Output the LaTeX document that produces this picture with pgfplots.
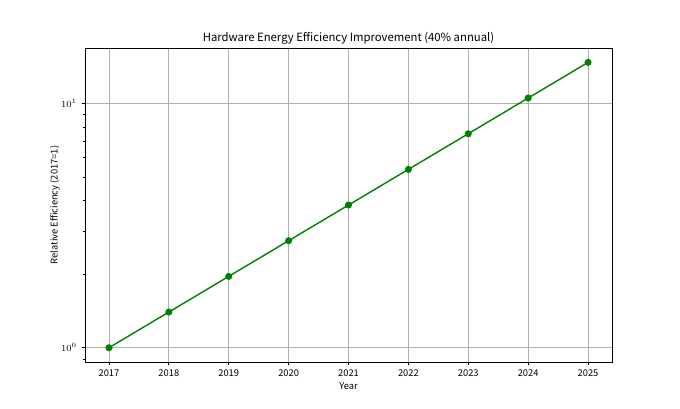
\documentclass[border=0pt]{standalone}
\usepackage{pgfplots}
\pgfplotsset{compat=1.18}
\usepackage{fontspec}
\setmainfont{Noto Sans CJK SC}
\definecolor{mplgreen}{HTML}{008000}
\definecolor{gridgray}{HTML}{B0B0B0}
\begin{document}
\begin{tikzpicture}
\path[use as bounding box] (0pt,0pt) rectangle (510pt,306pt);
\begin{axis}[
  at={(63.75pt,34.5pt)}, anchor=south west,
  scale only axis, width=395.25pt, height=235.5pt,
  ymode=log, log basis y=10,
  xmin=2016.6, xmax=2025.4,
  ymin=0.874, ymax=16.9,
  xtick={2017,2018,2019,2020,2021,2022,2023,2024,2025},
  xticklabels={2017,2018,2019,2020,2021,2022,2023,2024,2025},
  ytick={1,10},
  minor ytick={0.9,2,3,4,5,6,7,8,9,20},
  grid=major,
  major grid style={color=gridgray, line width=0.57pt},
  minor grid style={draw=none},
  axis line style={line width=0.6pt},
  tick style={black, line width=0.6pt},
  major tick length=2.6pt, minor tick length=1.5pt,
  tick align=outside, xtick pos=bottom, ytick pos=left,
  ticklabel style={font=\fontsize{7}{8}\selectfont},
  title={Hardware Energy Efficiency Improvement (40\% annual)},
  title style={font=\fontsize{8.5}{10}\selectfont, yshift=-7pt},
  xlabel={Year}, ylabel={Relative Efficiency (2017=1)},
  label style={font=\fontsize{7}{8}\selectfont},
  xlabel style={yshift=3pt},
  ylabel style={yshift=-6pt},
]
\addplot[color=mplgreen, line width=1.05pt, mark=*, mark size=2.1pt, mark options={fill=mplgreen, draw=mplgreen}]
coordinates {(2017,1) (2018,1.4) (2019,1.96) (2020,2.744) (2021,3.8416) (2022,5.37824) (2023,7.529536) (2024,10.5413504) (2025,14.75789056)};
\end{axis}
\end{tikzpicture}
\end{document}
